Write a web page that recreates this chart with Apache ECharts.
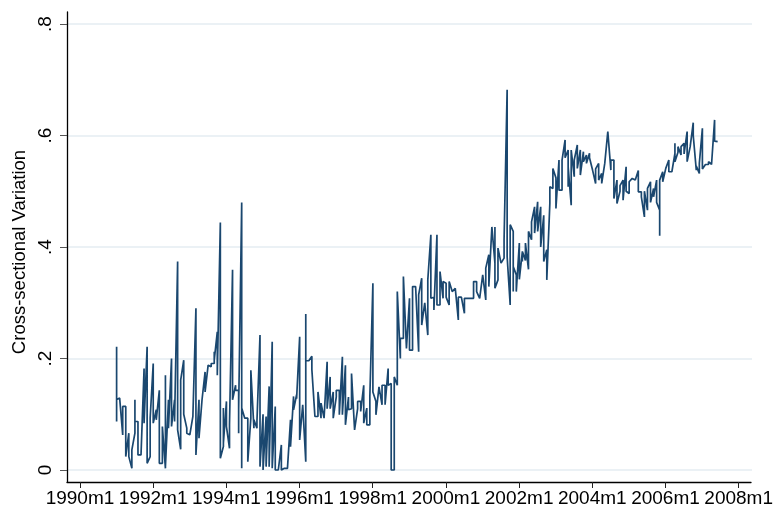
<!DOCTYPE html>
<html>
<head>
<meta charset="utf-8">
<script src="https://cdn.jsdelivr.net/npm/echarts@6/dist/echarts.min.js"></script>
<style>
  html, body { margin: 0; padding: 0; background: #ffffff; }
  #chart { width: 776px; height: 514px; }
</style>
</head>
<body>
<div id="chart"></div>
<script>
// Monthly cross-sectional variation; several observations may fall in one month.
const firstMonth = '1991m1';
const monthlyObs = [
  // 1991
  [0.221,0.087,0.126],[0.129],[0.063,0.114],[0.114,0.024],[0.066,0.024],[0.003,0.036],[0.066,0.126,0.087],[0.087,0.027],[0.027],[0.182,0.084],[0.221,0.012],[0.024,0.093],
  // 1992
  [0.191,0.084],[0.108,0.09],[0.143,0.012],[0.012,0.078],[0.003,0.170,0.006],[0.126,0.075],[0.2,0.078],[0.126,0.087],[0.374,0.072],[0.037,0.161],[0.197,0.10],[0.075,0.066],
  // 1993
  [0.063],[0.096],[0.29,0.027],[0.126,0.057],[0.126],[0.176,0.14],[0.188],[0.185,0.191],[0.191,0.212,0.197],[0.248,0.17],[0.444,0.021],[0.042,0.111,0.048],
  // 1994
  [0.123,0.078],[0.039,0.081],[0.359,0.126],[0.152,0.143],[0.143,0.066,0.108],[0.48,0.003,0.111],[0.093],[0.093,0.015],[0.093,0.179],[0.075,0.09],[0.075,0.087],[0.242,0.006],
  // 1995
  [0.10,0.0],[0.096,0.006],[0.15,0.006],[0.23,0.003],[0.114,0.0],[0.0],[0.045,0.0],[0.003],[0.003],[0.09,0.042],[0.132,0.108],[0.135,0.128],
  // 1996
  [0.239,0.054],[0.117],[0.015,0.28,0.196],[0.196],[0.204,0.18],[0.096],[0.096,0.14],[0.093,0.12],[0.093],[0.194,0.11],[0.167,0.11],[0.14,0.093],
  // 1997
  [0.131,0.143],[0.143,0.099],[0.203,0.099],[0.188,0.081],[0.131,0.108],[0.11,0.173],[0.072],[0.11,0.123],[0.123,0.105],[0.152,0.084],[0.111,0.081],[0.081,0.131],
  // 1998
  [0.335,0.14],[0.123,0.099],[0.149],[0.117,0.152],[0.152,0.117],[0.182,0.152],[0.155,0.0],[0.0,0.167],[0.152,0.32],[0.2,0.236],[0.236,0.347],[0.218],
  // 1999
  [0.308,0.215],[0.215,0.329],[0.329],[0.212,0.314],[0.344,0.26],[0.30],[0.242,0.341],[0.422,0.308],[0.31,0.287],[0.422,0.296],[0.296,0.356],[0.308,0.338],
  // 2000
  [0.335,0.31],[0.296,0.338],[0.32],[0.326],[0.269,0.31],[0.31],[0.281,0.308],[0.308],[0.308],[0.308,0.338],[0.338,0.32],[0.308],
  // 2001
  [0.35],[0.305,0.362],[0.386,0.329],[0.436],[0.371,0.436,0.326],[0.341,0.398],[0.371],[0.38,0.413],[0.682,0.383],[0.296,0.44],[0.428,0.32,0.365],[0.35,0.32],
  // 2002
  [0.407,0.342],[0.392,0.374,0.392],[0.376,0.407],[0.36,0.428],[0.413,0.445],[0.472,0.425],[0.481,0.428],[0.472,0.4],[0.457,0.374],[0.395,0.341],[0.478,0.508],[0.505,0.541],
  // 2003
  [0.524,0.469],[0.556,0.502],[0.502,0.556],[0.592,0.56],[0.574,0.508,0.544],[0.475,0.574],[0.526,0.556],[0.583,0.541],[0.574,0.529],[0.571,0.553],[0.565,0.55],[0.568,0.56],
  // 2004
  [0.538],[0.514,0.54],[0.55,0.52],[0.532,0.514],[0.55,0.553],[0.607],[0.538,0.556],[0.556,0.487],[0.52,0.478],[0.5,0.51],[0.52,0.484],[0.544,0.5],
  // 2005
  [0.496,0.517],[0.523],[0.52],[0.537,0.499],[0.499,0.49],[0.454,0.5],[0.466,0.505],[0.517,0.48],[0.505,0.49],[0.52,0.48],[0.466,0.42,0.52],[0.535,0.517],
  // 2006
  [0.541,0.54],[0.556,0.535],[0.535],[0.568,0.586,0.553],[0.57,0.58],[0.565,0.58],[0.586,0.567],[0.607,0.553],[0.58],[0.623,0.6],[0.538,0.545],[0.532,0.55],
  // 2007
  [0.613,0.54],[0.548],[0.548,0.553],[0.548,0.55],[0.628,0.59],[0.589]
];

// Axis tick labels
const xTickLabels = ['1990m1','1992m1','1994m1','1996m1','1998m1','2000m1','2002m1','2004m1','2006m1','2008m1'];
const yTickLabels = ['0','.2','.4','.6','.8'];
const yTitle = 'Cross-sectional Variation';

// Stata-style monthly index: months since 1960m1
function monthIndex(label) {
  const [y, m] = label.split('m').map(Number);
  return (y - 1960) * 12 + (m - 1);
}

const start = monthIndex(firstMonth);
const points = [];
monthlyObs.forEach((obs, i) => {
  obs.forEach(v => points.push([start + i, v]));
});

const xFirstTick = monthIndex(xTickLabels[0]);
const xLastTick = monthIndex(xTickLabels[xTickLabels.length - 1]);
const xStep = monthIndex(xTickLabels[1]) - xFirstTick;

// Plot region geometry (pixels)
const plotLeft = 67, plotRight = 751, plotTop = 12, plotBottom = 482;
const tickLeft = 80, tickRight = 739;   // x positions of first/last x tick
const yTop = 24, yBottom = 470;         // y positions of .8 and 0
const W = 776, H = 514;

const pxPerMonth = (tickRight - tickLeft) / (xLastTick - xFirstTick);
const xMin = xFirstTick - (tickLeft - plotLeft) / pxPerMonth;
const xMax = xLastTick + (plotRight - tickRight) / pxPerMonth;
const pxPerUnit = (yBottom - yTop) / 0.8;
const yMin = -(plotBottom - yBottom) / pxPerUnit;
const yMax = 0.8 + (yTop - plotTop) / pxPerUnit;

const font = 'Liberation Sans, Arial, Helvetica, sans-serif';

const chart = echarts.init(document.getElementById('chart'), null, { renderer: 'canvas' });
chart.setOption({
  animation: false,
  backgroundColor: '#ffffff',
  grid: [
    // data + axis lines
    { left: plotLeft, right: W - plotRight, top: plotTop, bottom: H - plotBottom },
    // x ticks and labels
    { left: tickLeft, right: W - tickRight, top: plotTop, bottom: H - plotBottom },
    // y ticks, labels and gridlines
    { left: plotLeft, right: W - plotRight - 1, top: yTop, bottom: H - yBottom }
  ],
  xAxis: [
    { gridIndex: 0, type: 'value', min: xMin, max: xMax,
      axisLine: { show: true, onZero: false, lineStyle: { color: '#000', width: 1.3 } },
      axisTick: { show: false }, axisLabel: { show: false }, splitLine: { show: false } },
    { gridIndex: 1, type: 'value', min: xFirstTick, max: xLastTick, interval: xStep,
      position: 'bottom',
      axisLine: { show: false, onZero: false },
      axisTick: { show: true, length: 6, lineStyle: { color: '#222', width: 1 } },
      axisLabel: { show: true, margin: 7, color: '#000', fontSize: 19, fontFamily: font,
        formatter: v => xTickLabels[Math.round((v - xFirstTick) / xStep)] },
      splitLine: { show: false } },
    { gridIndex: 2, type: 'value', min: 0, max: 1, show: false }
  ],
  yAxis: [
    { gridIndex: 0, type: 'value', min: yMin, max: yMax,
      axisLine: { show: true, onZero: false, lineStyle: { color: '#000', width: 1.3 } },
      axisTick: { show: false }, axisLabel: { show: false }, splitLine: { show: false } },
    { gridIndex: 1, type: 'value', min: 0, max: 1, show: false },
    { gridIndex: 2, type: 'value', min: 0, max: 0.8, interval: 0.2,
      axisLine: { show: false },
      axisTick: { show: true, length: 7, lineStyle: { color: '#555', width: 1 } },
      axisLabel: { show: true, rotate: 90, margin: 12, color: '#000', fontSize: 19, fontFamily: font,
        formatter: v => yTickLabels[Math.round(v / 0.2)] },
      splitLine: { show: true, lineStyle: { color: '#e5edf2', width: 1.5 } } }
  ],
  graphic: [
    { type: 'text', x: 20, y: 252, rotation: Math.PI / 2,
      style: { text: yTitle, fill: '#000', font: '18.5px ' + font, align: 'center', verticalAlign: 'middle' } }
  ],
  series: [
    { type: 'line', xAxisIndex: 0, yAxisIndex: 0, data: points, showSymbol: false,
      lineStyle: { color: '#1a476f', width: 1.7 }, z: 5 }
  ]
});
</script>
</body>
</html>
